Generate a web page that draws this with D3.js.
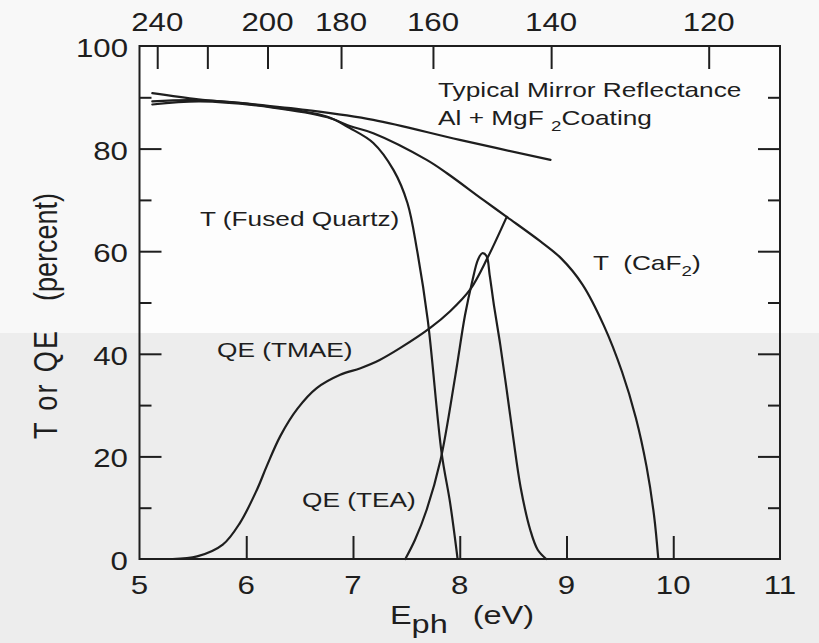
<!DOCTYPE html>
<html>
<head>
<meta charset="utf-8">
<script src="https://cdn.jsdelivr.net/npm/d3@7"></script>
<style>
  html, body { margin: 0; padding: 0; background: #fafafa; }
  svg { display: block; }
  text { font-family: "Liberation Sans", Arial, Helvetica, sans-serif; fill: #1e1e1e; white-space: pre; }
</style>
</head>
<body>
<svg id="chart" width="819" height="643"></svg>
<script>
// ---- data ----
const xTicks = [5, 6, 7, 8, 9, 10, 11];
const yMajorTicks = [0, 20, 40, 60, 80, 100];
const yMinorTicks = [10, 30, 50, 70, 90];
const topWavelengths = [240, 220, 200, 180, 160, 140, 120];
const topLabels = ["240", "", "200", "180", "160", "140", "120"];

const mirrorE = [5.12, 5.55, 5.94, 6.57, 7.19, 8.00, 8.85];
const mirrorV = [90.8, 89.6, 88.9, 87.5, 85.6, 81.7, 77.8];

const quartzE = [5.12, 5.57, 6.25, 6.76, 6.97, 7.19, 7.38, 7.51, 7.60, 7.70, 7.83, 7.91, 7.98];
const quartzV = [89.2, 89.4, 88.1, 86.2, 84.0, 81.1, 75.8, 69.4, 60.2, 46.6, 20.7, 10.9, 0];

const cafE = [5.12, 5.57, 6.25, 6.76, 6.97, 7.19, 7.69, 7.88, 8.22, 8.44, 8.75, 8.95, 9.15, 9.35, 9.52, 9.65, 9.75, 9.82, 9.86];
const cafV = [88.6, 89.2, 88.0, 86.1, 84.4, 83.0, 77.8, 75.2, 70.0, 66.7, 62.0, 58.6, 53.5, 45.5, 36.5, 27.5, 18.0, 8.5, 0];

const tmaeE = [5.31, 5.54, 5.78, 5.94, 6.10, 6.19, 6.32, 6.48, 6.66, 6.88, 7.07, 7.25, 7.44, 7.72, 7.91, 8.10, 8.26, 8.44];
const tmaeV = [0, 0.5, 2.8, 7.0, 13.5, 18.0, 24.0, 29.3, 33.3, 35.9, 37.2, 38.8, 41.1, 45.0, 48.3, 52.6, 58.7, 66.7];

const teaE = [7.49, 7.58, 7.69, 7.82, 7.96, 8.05, 8.12, 8.17, 8.21, 8.25, 8.28, 8.32, 8.38, 8.44, 8.50, 8.57, 8.66, 8.73, 8.81];
const teaV = [0, 3.7, 9.6, 19.3, 35.9, 47.6, 54.4, 58.3, 59.6, 59.1, 55.4, 49.5, 41.7, 32.9, 23.8, 14.0, 5.7, 1.8, 0];

const HC = 1239.84; // eV·nm

// ---- layout ----
const svg = d3.select("#chart");
const W = 819, H = 643;
const L = 139.5, R = 780, T = 46, B = 559;
const SX = 1.25; // horizontal stretch of the scanned lettering

const x = d3.scaleLinear().domain([5, 11]).range([L, R]);
const y = d3.scaleLinear().domain([0, 100]).range([B, T]);

// background (scanned page look)
svg.append("rect").attr("x", 0).attr("y", 0).attr("width", W).attr("height", H).attr("fill", "#f8f8f8");
svg.append("rect").attr("x", 0).attr("y", 333).attr("width", W).attr("height", H - 333).attr("fill", "#ededed");
svg.append("rect").attr("x", L).attr("y", T).attr("width", R - L).attr("height", 333 - T).attr("fill", "#fdfdfd");

const ink = "#1e1e1e";

// ticks via d3 axes (inward)
function tickAxis(gen, tx, ty, vals, size) {
  const g = svg.append("g").attr("transform", `translate(${tx},${ty})`)
    .call(gen.tickValues(vals).tickSize(size).tickFormat(""));
  g.select(".domain").remove();
  g.selectAll("line").attr("stroke", ink).attr("stroke-width", 2);
  return g;
}
tickAxis(d3.axisRight(y), L, 0, yMajorTicks.filter(v => v > 0 && v < 100), 22);
tickAxis(d3.axisRight(y), L, 0, yMinorTicks, 12);
tickAxis(d3.axisLeft(y), R, 0, yMajorTicks.filter(v => v > 0 && v < 100), 22);
tickAxis(d3.axisLeft(y), R, 0, yMinorTicks, 12);
tickAxis(d3.axisTop(x), 0, B, xTicks.filter(v => v > 5 && v < 11), 23);
tickAxis(d3.axisBottom(x), 0, T, topWavelengths.map(l => HC / l), 23);

// frame
svg.append("rect").attr("x", L).attr("y", T).attr("width", R - L).attr("height", B - T)
  .attr("fill", "none").attr("stroke", ink).attr("stroke-width", 2);

// text helper with horizontal stretch
function stext(px, py, size, anchor, rot) {
  return svg.append("text")
    .attr("transform", `translate(${px},${py}) scale(${SX},1)` + (rot ? ` rotate(${rot})` : ""))
    .attr("font-size", size).attr("text-anchor", anchor || "start");
}

// tick labels
yMajorTicks.forEach(v => stext(128, y(v) + 11, 25, "end").text(v));
xTicks.forEach(v => stext(x(v), 594, 25, "middle").text(v));
topWavelengths.forEach((l, i) => { if (topLabels[i]) stext(x(HC / l), 31, 25, "middle").text(topLabels[i]); });

// axis titles
const xt = stext(462, 624, 26, "middle");
xt.append("tspan").text("E");
xt.append("tspan").attr("dy", 9).text("ph");
xt.append("tspan").attr("dy", -9).attr("dx", 20).text("(eV)");

stext(57, 385, 27, "middle", -90).attr("textLength", 108).attr("lengthAdjust", "spacing").text("T or QE");
stext(57, 247, 27, "middle", -90).text("(percent)");

// curves
const line = d3.line().x(d => x(d[0])).y(d => y(d[1])).curve(d3.curveCatmullRom.alpha(0.5));
function curve(E, V) {
  svg.append("path").datum(E.map((e, i) => [e, V[i]]))
    .attr("d", line).attr("fill", "none").attr("stroke", ink).attr("stroke-width", 2.2)
    .attr("stroke-linejoin", "round").attr("stroke-linecap", "round");
}
curve(mirrorE, mirrorV);
curve(quartzE, quartzV);
curve(cafE, cafV);
curve(tmaeE, tmaeV);
curve(teaE, teaV);

// annotations
stext(438, 97, 21).text("Typical Mirror Reflectance");
const al = stext(438, 125, 21);
al.append("tspan").text("Al + MgF ");
al.append("tspan").attr("dy", 6).attr("font-size", 15).text("2");
al.append("tspan").attr("dy", -6).text("Coating");

stext(200, 226, 21).text("T (Fused Quartz)");
const caf = stext(593, 270, 21);
caf.append("tspan").text("T  (CaF");
caf.append("tspan").attr("dy", 6).attr("font-size", 15).text("2");
caf.append("tspan").attr("dy", -6).text(")");

stext(217, 357, 21).text("QE (TMAE)");
stext(302, 507, 21).text("QE (TEA)");
</script>
</body>
</html>
